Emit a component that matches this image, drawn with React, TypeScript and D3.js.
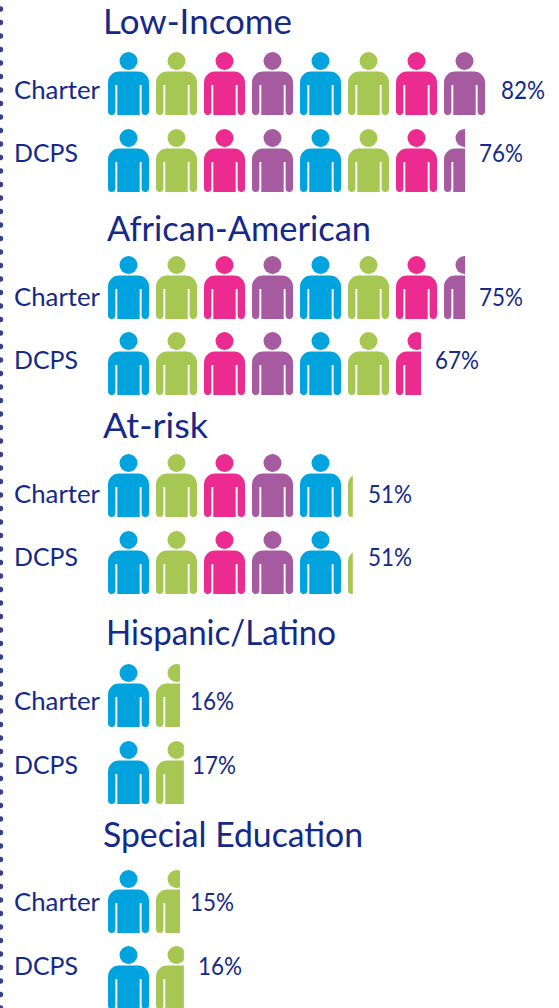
import React from "react";
import * as d3 from "d3";

const groups = ["Low-Income", "African-American", "At-risk", "Hispanic/Latino", "Special Education"];
const rowLabels = ["Charter", "DCPS"];
const charterPct = [82, 75, 51, 16, 15];
const dcpsPct = [76, 67, 51, 17, 16];
// how many figures are drawn for each row
const charterFigures = [8, 7.44, 5.1, 1.5, 1.5];
const dcpsFigures = [7.44, 6.52, 5.1, 1.58, 1.58];

const palette = ["#00a3de", "#a6c852", "#ec2b91", "#a65a9f"];
const navy = "#14298a";
const font = "Lato, 'Open Sans', sans-serif";

// layout
const titleBase = [34, 241, 438, 645, 847];
const titleX = [103, 107, 103, 106, 103];
const titleW = [189, 264, 105, 230, 260];
const charterTop = [52, 256, 454, 664, 870];
const dcpsTop = [129, 332, 531, 741, 946];
const charterBase = [99, 306, 503, 710, 911];
const dcpsBase = [162, 369, 566, 774, 975];
const charterPctX = [501, 479, 368, 190, 190];
const dcpsPctX = [479, 435, 368, 192, 198];
const labelX = 14;

const x = d3.scaleLinear().domain([0, 1]).range([108, 156]);
const W = 41;
const H = 63;

function bodyPath() {
  const p = d3.path();
  const top = 19.5;
  const slitTop = 33;
  const rs = 11;
  const ra = 3.7;
  p.moveTo(0, top + rs);
  p.arcTo(0, top, rs, top, rs);
  p.lineTo(W - rs, top);
  p.arcTo(W, top, W, top + rs, rs);
  p.lineTo(W, H - ra);
  p.arcTo(W, H, W - ra, H, ra);
  p.arcTo(W - 7.4, H, W - 7.4, H - ra, ra);
  p.lineTo(W - 7.4, slitTop);
  p.lineTo(W - 9.3, slitTop);
  p.lineTo(W - 9.3, H);
  p.lineTo(9.3, H);
  p.lineTo(9.3, slitTop);
  p.lineTo(7.4, slitTop);
  p.lineTo(7.4, H - ra);
  p.arcTo(7.4, H, 7.4 - ra, H, ra);
  p.arcTo(0, H, 0, H - ra, ra);
  p.closePath();
  return p.toString();
}

function Row({ id, top, base, figures, pct, pctX, label, labelW }: any) {
  const whole = Math.ceil(figures);
  const endX = x(figures);
  return (
    <g>
      <clipPath id={id}>
        <rect x={x(0)} y={top - 1} width={endX - x(0)} height={H + 2} />
      </clipPath>
      <text x={labelX} y={base} fontSize={25} fontFamily={font} fill={navy} textLength={labelW} lengthAdjust="spacingAndGlyphs">{label}</text>
      <g clipPath={`url(#${id})`}>
        {d3.range(whole).map((i) => (
          <g key={i} transform={`translate(${x(i)},${top})`} fill={palette[i % 4]}>
            <circle cx={W / 2} cy={9} r={9} />
            <path d={bodyPath()} />
          </g>
        ))}
      </g>
      <text x={pctX} y={base} fontSize={25} fontFamily={font} fill={navy} textLength={44} lengthAdjust="spacingAndGlyphs">{`${pct}%`}</text>
    </g>
  );
}

export default function App() {
  return (
    <svg width={559} height={1008} viewBox="0 0 559 1008"
      style={{ position: "fixed", left: 0, top: 0, background: "#fff", display: "block" }}>
      {d3.range(0, 1008 / 13.5).map((i) => (
        <circle key={i} cx={0.5} cy={9 + i * 13.5} r={2.7} fill="#34408c" />
      ))}
      {groups.map((g, i) => (
        <g key={g}>
          <text x={titleX[i]} y={titleBase[i]} fontSize={34} fontFamily={font} fill={navy} textLength={titleW[i]} lengthAdjust="spacingAndGlyphs">{g}</text>
          <Row id={`c${i}`} top={charterTop[i]} base={charterBase[i]} figures={charterFigures[i]} pct={charterPct[i]} pctX={charterPctX[i]} label={rowLabels[0]} labelW={86} />
          <Row id={`d${i}`} top={dcpsTop[i]} base={dcpsBase[i]} figures={dcpsFigures[i]} pct={dcpsPct[i]} pctX={dcpsPctX[i]} label={rowLabels[1]} labelW={64} />
        </g>
      ))}
    </svg>
  );
}
